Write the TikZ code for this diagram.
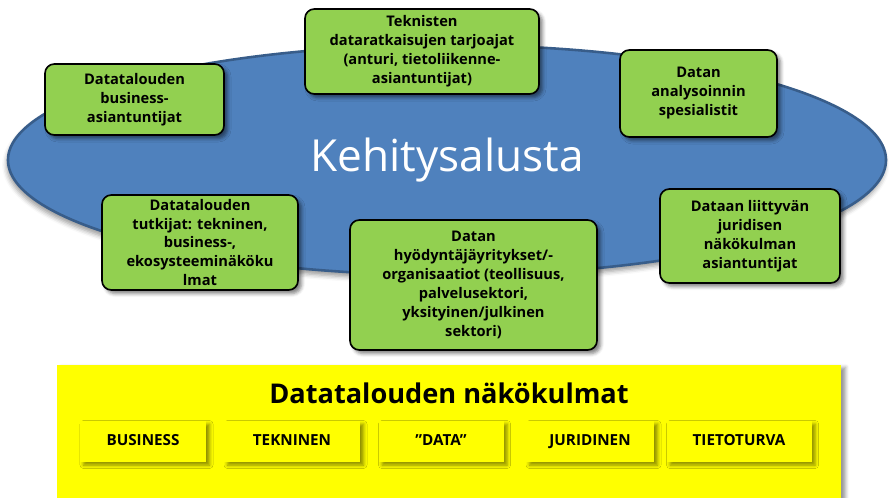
\documentclass[tikz,border=0pt]{standalone}
\usepackage{fontspec}
\setmainfont{Open Sans}
\usepackage{tikz}
\usetikzlibrary{shapes.geometric, shadows.blur}
\definecolor{KSblue}{HTML}{4F81BD}
\definecolor{KSedge}{HTML}{385D8A}
\definecolor{KSgreen}{HTML}{92D050}
\definecolor{KSyellow}{HTML}{FFFF00}
\tikzstyle{platform} = [ellipse, minimum width=26.34cm, minimum height=6.9cm, inner sep=0pt, draw=KSedge, line width=2.2pt, fill=KSblue, text=white, font=\fontsize{37.7}{44}\selectfont, blur shadow={shadow opacity=40, shadow xshift=-1pt, shadow yshift=-4pt, shadow blur radius=4pt}]
\tikzstyle{actor} = [rectangle, rounded corners=8pt, draw=black, line width=1.4pt, fill=KSgreen, align=center, inner sep=1pt, font=\bfseries\fontsize{12.5}{16.2}\selectfont, blur shadow={shadow opacity=50, shadow xshift=3pt, shadow yshift=-3pt, shadow blur radius=3pt}]
\tikzstyle{aspects} = [rectangle, fill=KSyellow, minimum width=23.52cm, minimum height=4.05cm, blur shadow={shadow opacity=40, shadow xshift=4pt, shadow yshift=-2pt, shadow blur radius=3pt}]
\tikzstyle{aspect} = [rectangle, fill=KSyellow, minimum width=3.9cm, minimum height=1.23cm, text height=1.6ex, text depth=0.3ex, font=\bfseries\fontsize{13}{16}\selectfont, blur shadow={shadow opacity=45, shadow xshift=3pt, shadow yshift=-3pt, shadow blur radius=3pt}]

\begin{document}
\begin{tikzpicture}[x=0.03cm, y=-0.03cm, node distance=4.47cm]
\useasboundingbox (0,0) rectangle (889,497);

\node (plat) [platform] at (447,160) {Kehitysalusta};

\node (biz) [actor, minimum width=5.37cm, minimum height=2.13cm] at (134.5,99.5) {Datatalouden\\business-\\asiantuntijat};
\node (tech) [actor, minimum width=7.02cm, minimum height=2.55cm] at (422,51.5) {Teknisten\\dataratkaisujen tarjoajat\\(anturi, tietoliikenne-\\asiantuntijat)};
\node (anal) [actor, minimum width=4.71cm, minimum height=2.61cm] at (698.5,93.5) {Datan\\analysoinnin\\spesialistit};
\node (jur) [actor, minimum width=5.4cm, minimum height=2.82cm] at (750,236) {Dataan liittyvän\\juridisen\\näkökulman\\asiantuntijat};
\node (res) [actor, minimum width=5.88cm, minimum height=2.85cm] at (200,242.5) {Datatalouden\\tutkijat: tekninen,\\business-,\\ekosysteeminäköku\\lmat};
\node (user) [actor, minimum width=7.41cm, minimum height=3.9cm] at (473.5,285) {Datan\\hyödyntäjäyritykset/-\\organisaatiot (teollisuus,\\palvelusektori,\\yksityinen/julkinen\\sektori)};

\node (view) [aspects] at (449,432.5) {};
\node (ttl) [font=\bfseries\fontsize{23.2}{27}\selectfont] at (449,393) {Datatalouden näkökulmat};

\node (vbiz) [aspect, minimum width=3.78cm] at (143,441) {BUSINESS};
\node (vtek) [aspect, minimum width=4.08cm, right of=vbiz] {TEKNINEN};
\node (vdata) [aspect, minimum width=3.75cm, right of=vtek] {”DATA”};
\node (vjur) [aspect, minimum width=3.84cm, right of=vdata] {JURIDINEN};
\node (vsec) [aspect, minimum width=4.35cm, right of=vjur] {TIETOTURVA};

\end{tikzpicture}
\end{document}
